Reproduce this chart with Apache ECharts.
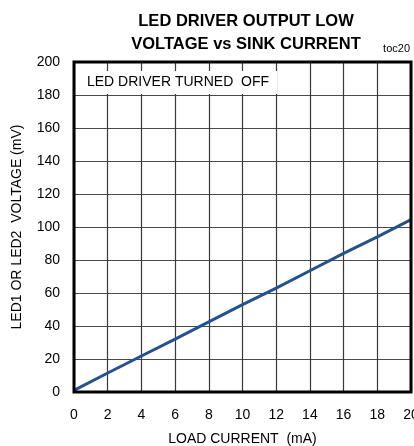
<!DOCTYPE html>
<html>
<head>
<meta charset="utf-8">
<script src="https://cdn.jsdelivr.net/npm/echarts@6/dist/echarts.min.js"></script>
<style>
  html, body { margin: 0; padding: 0; background: #fff; }
  #chart { width: 414px; height: 446px; }
</style>
</head>
<body>
<div id="chart"></div>
<script>
// load current (mA) vs LED pin voltage (mV)
const loadCurrent = [0, 2, 4, 6, 8, 10, 12, 14, 16, 18, 20]
const ledVoltage = [1, 11.5, 21.8, 32, 42.5, 53, 63, 73.5, 84, 94, 104.5]
const xTicks = { min: 0, max: 20, step: 2 }
const yTicks = { min: 0, max: 200, step: 20 }

const font = "'Liberation Sans', Arial, sans-serif"

const myChart = echarts.init(document.getElementById('chart'))
myChart.setOption({
    animation: false,
    title: [
        {
            text: 'LED DRIVER OUTPUT LOW\nVOLTAGE vs SINK CURRENT',
            left: 241,
            top: 5,
            textAlign: 'center',
            textStyle: {
                fontFamily: font,
                fontSize: 16.5,
                fontWeight: 'bold',
                lineHeight: 23,
                color: '#000'
            }
        },
        {
            text: 'toc20',
            right: 4,
            top: 43,
            padding: 0,
            textStyle: { fontFamily: font, fontSize: 11, fontWeight: 'normal', color: '#000' }
        },
        {
            // label box sits on top of the grid lines
            text: 'LED DRIVER TURNED  OFF',
            left: 76,
            top: 71,
            backgroundColor: '#fff',
            padding: [4, 8, 4, 11],
            textStyle: { fontFamily: font, fontSize: 14, fontWeight: 'normal', color: '#000', lineHeight: 15 }
        }
    ],
    grid: {
        left: 74,
        right: 3,
        top: 62,
        bottom: 54,
        outerBoundsMode: 'none',
        containLabel: false,
        show: true,
        borderColor: '#000',
        borderWidth: 3,
        z: 3
    },
    xAxis: {
        type: 'value',
        min: xTicks.min,
        max: xTicks.max,
        interval: xTicks.step,
        name: 'LOAD CURRENT  (mA)',
        nameLocation: 'middle',
        nameGap: 40,
        nameTextStyle: { fontFamily: font, fontSize: 14, color: '#000' },
        axisLine: { show: false },
        axisTick: { show: false },
        axisLabel: { fontFamily: font, fontSize: 14, color: '#000', margin: 16 },
        splitLine: { show: true, lineStyle: { color: '#3a3a3a', width: 1.2 } }
    },
    yAxis: {
        type: 'value',
        min: yTicks.min,
        max: yTicks.max,
        interval: yTicks.step,
        name: 'LED1 OR LED2  VOLTAGE (mV)',
        nameLocation: 'middle',
        nameGap: 50,
        nameTextStyle: { fontFamily: font, fontSize: 14, color: '#000' },
        axisLine: { show: false },
        axisTick: { show: false },
        axisLabel: { fontFamily: font, fontSize: 14, color: '#000', margin: 14 },
        splitLine: { show: true, lineStyle: { color: '#4a4a4a', width: 1.2 } }
    },
    series: [
        {
            type: 'line',
            data: loadCurrent.map((x, i) => [x, ledVoltage[i]]),
            showSymbol: false,
            lineStyle: { color: '#23538f', width: 3 },
            z: 2
        }
    ]
})
window.addEventListener('resize', () => {
    myChart.resize()
})
</script>
</body>
</html>
